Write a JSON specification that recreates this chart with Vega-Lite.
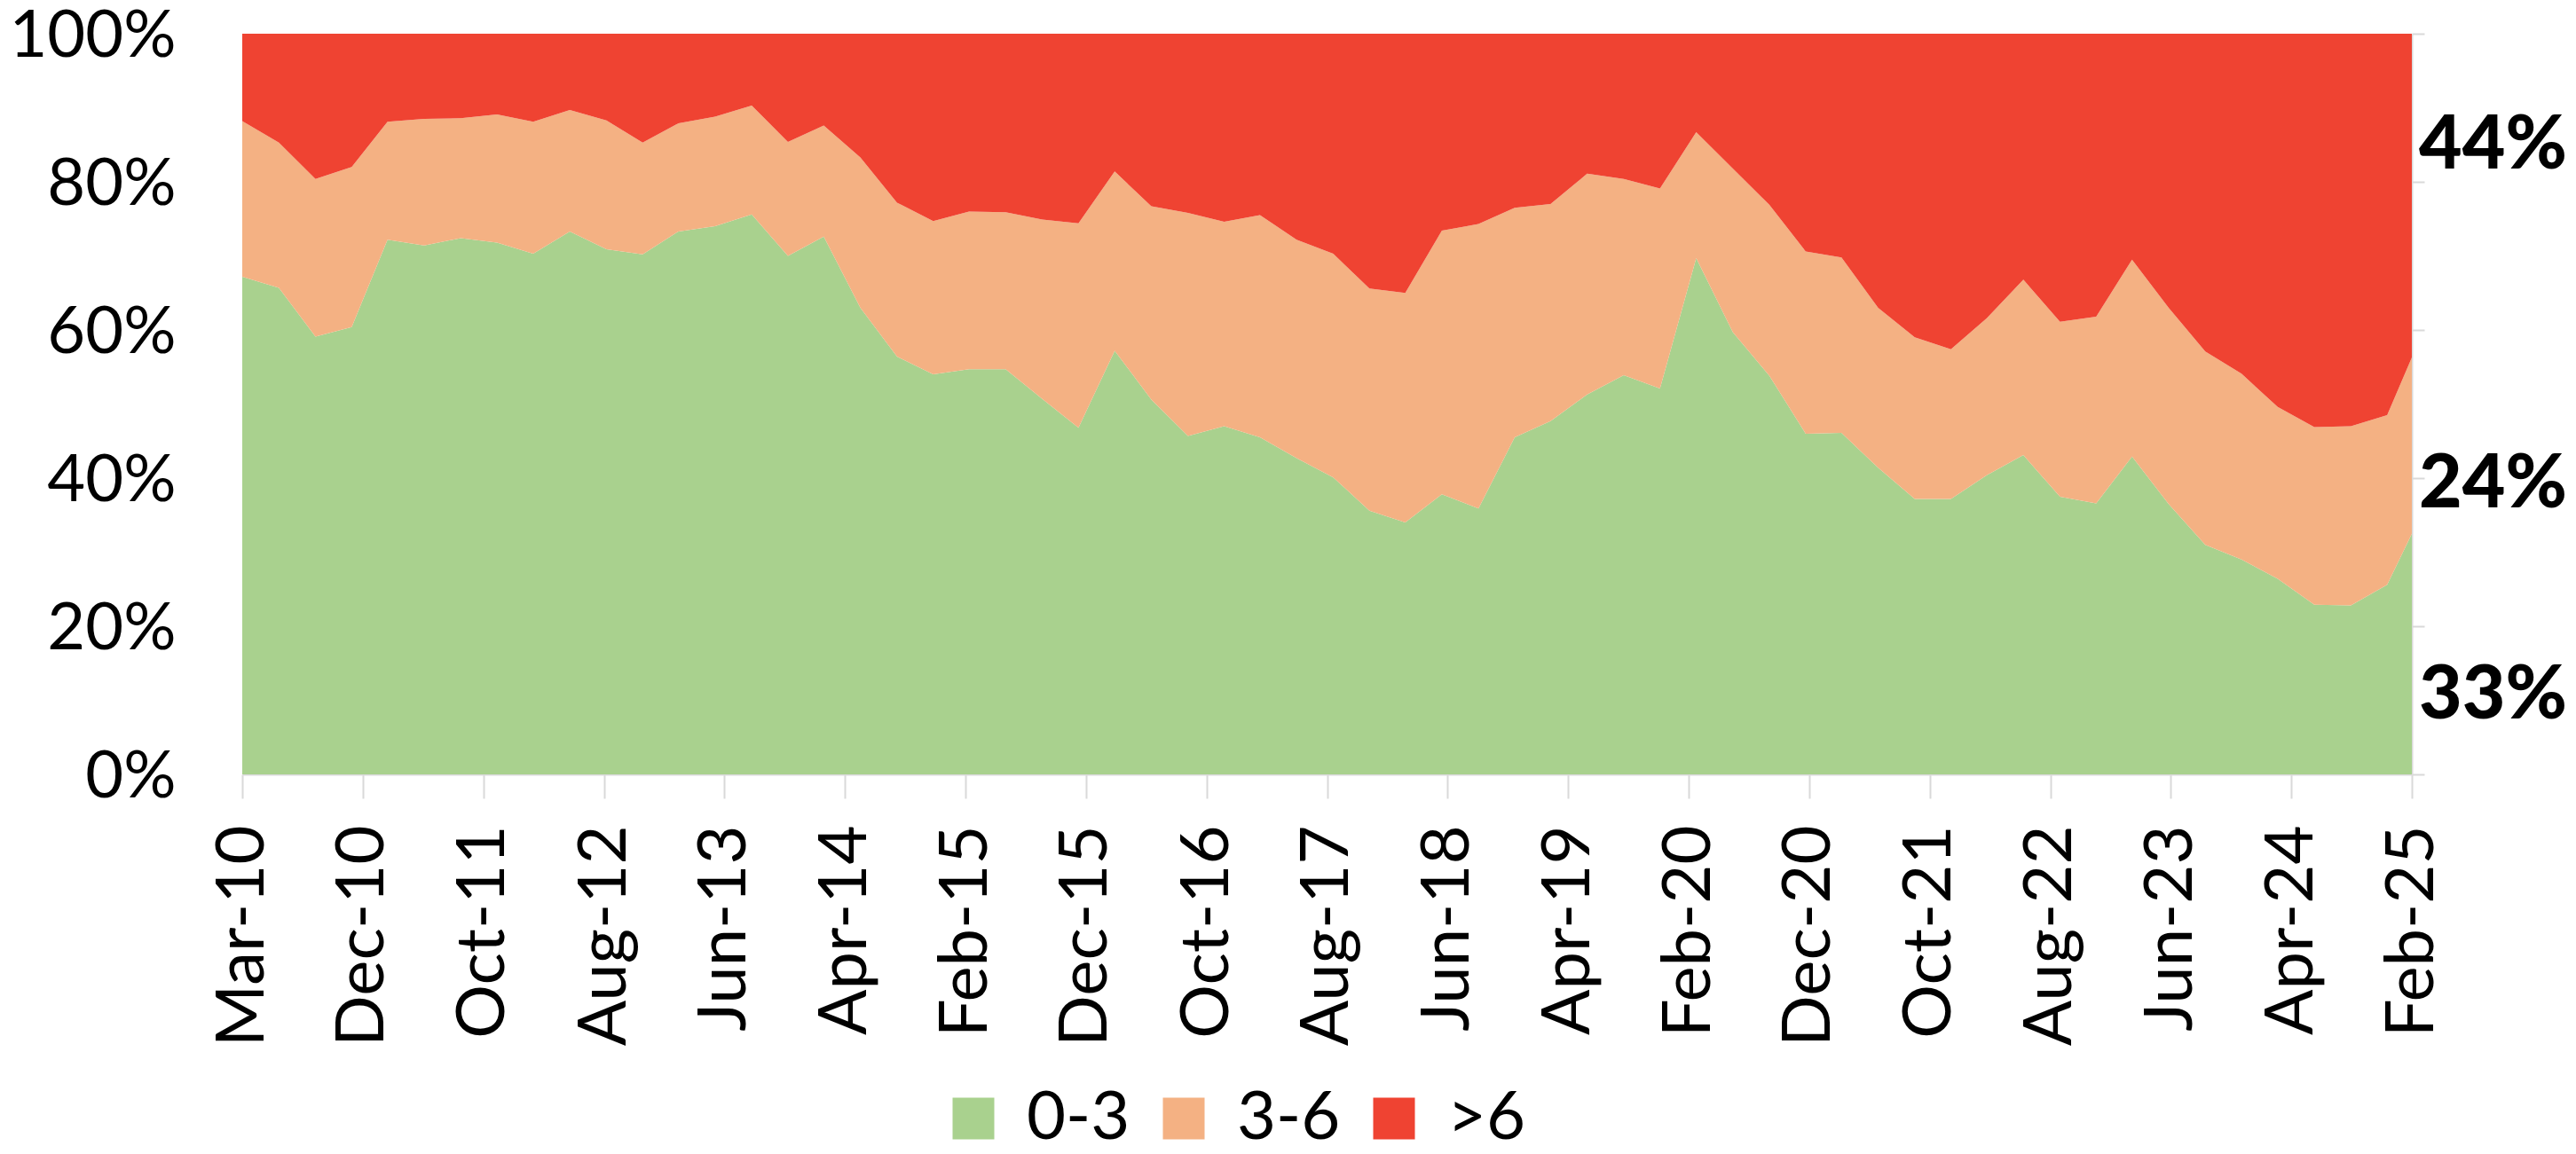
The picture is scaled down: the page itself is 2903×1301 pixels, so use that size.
{
  "$schema": "https://vega.github.io/schema/vega-lite/v6.json",
  "width": 2445,
  "height": 835,
  "autosize": {"type": "none"},
  "padding": {"left": 273, "top": 38, "right": 185, "bottom": 428},
  "background": "white",
  "config": {"view": {"stroke": null}, "font": "Lato"},
  "datasets": {
    "shares": [
      {"date": "2010-03-01T00:00", "0-3": 67.2, "3-6": 21.0, ">6": 11.8},
      {"date": "2010-06-01T00:00", "0-3": 65.7, "3-6": 19.6, ">6": 14.7},
      {"date": "2010-09-01T00:00", "0-3": 59.1, "3-6": 21.3, ">6": 19.6},
      {"date": "2010-12-01T00:00", "0-3": 60.4, "3-6": 21.6, ">6": 18.0},
      {"date": "2011-03-01T00:00", "0-3": 72.2, "3-6": 15.9, ">6": 11.9},
      {"date": "2011-06-01T00:00", "0-3": 71.4, "3-6": 17.1, ">6": 11.5},
      {"date": "2011-09-01T00:00", "0-3": 72.4, "3-6": 16.2, ">6": 11.4},
      {"date": "2011-12-01T00:00", "0-3": 71.8, "3-6": 17.3, ">6": 10.9},
      {"date": "2012-03-01T00:00", "0-3": 70.3, "3-6": 17.8, ">6": 11.9},
      {"date": "2012-06-01T00:00", "0-3": 73.3, "3-6": 16.4, ">6": 10.3},
      {"date": "2012-09-01T00:00", "0-3": 70.9, "3-6": 17.4, ">6": 11.7},
      {"date": "2012-12-01T00:00", "0-3": 70.2, "3-6": 15.1, ">6": 14.7},
      {"date": "2013-03-01T00:00", "0-3": 73.3, "3-6": 14.6, ">6": 12.1},
      {"date": "2013-06-01T00:00", "0-3": 74.0, "3-6": 14.8, ">6": 11.2},
      {"date": "2013-09-01T00:00", "0-3": 75.6, "3-6": 14.7, ">6": 9.7},
      {"date": "2013-12-01T00:00", "0-3": 70.0, "3-6": 15.4, ">6": 14.6},
      {"date": "2014-03-01T00:00", "0-3": 72.6, "3-6": 15.0, ">6": 12.4},
      {"date": "2014-06-01T00:00", "0-3": 63.0, "3-6": 20.3, ">6": 16.7},
      {"date": "2014-09-01T00:00", "0-3": 56.4, "3-6": 20.8, ">6": 22.8},
      {"date": "2014-12-01T00:00", "0-3": 54.0, "3-6": 20.7, ">6": 25.3},
      {"date": "2015-03-01T00:00", "0-3": 54.7, "3-6": 21.3, ">6": 24.0},
      {"date": "2015-06-01T00:00", "0-3": 54.7, "3-6": 21.2, ">6": 24.1},
      {"date": "2015-09-01T00:00", "0-3": 50.7, "3-6": 24.2, ">6": 25.1},
      {"date": "2015-12-01T00:00", "0-3": 46.8, "3-6": 27.6, ">6": 25.6},
      {"date": "2016-03-01T00:00", "0-3": 57.2, "3-6": 24.2, ">6": 18.6},
      {"date": "2016-06-01T00:00", "0-3": 50.6, "3-6": 26.1, ">6": 23.3},
      {"date": "2016-09-01T00:00", "0-3": 45.7, "3-6": 30.1, ">6": 24.2},
      {"date": "2016-12-01T00:00", "0-3": 47.0, "3-6": 27.6, ">6": 25.4},
      {"date": "2017-03-01T00:00", "0-3": 45.5, "3-6": 30.0, ">6": 24.5},
      {"date": "2017-06-01T00:00", "0-3": 42.7, "3-6": 29.5, ">6": 27.8},
      {"date": "2017-09-01T00:00", "0-3": 40.1, "3-6": 30.2, ">6": 29.7},
      {"date": "2017-12-01T00:00", "0-3": 35.6, "3-6": 30.0, ">6": 34.4},
      {"date": "2018-03-01T00:00", "0-3": 34.0, "3-6": 31.0, ">6": 35.0},
      {"date": "2018-06-01T00:00", "0-3": 37.8, "3-6": 35.6, ">6": 26.6},
      {"date": "2018-09-01T00:00", "0-3": 35.9, "3-6": 38.4, ">6": 25.7},
      {"date": "2018-12-01T00:00", "0-3": 45.5, "3-6": 31.0, ">6": 23.5},
      {"date": "2019-03-01T00:00", "0-3": 47.7, "3-6": 29.3, ">6": 23.0},
      {"date": "2019-06-01T00:00", "0-3": 51.3, "3-6": 29.8, ">6": 18.9},
      {"date": "2019-09-01T00:00", "0-3": 53.9, "3-6": 26.5, ">6": 19.6},
      {"date": "2019-12-01T00:00", "0-3": 52.1, "3-6": 27.0, ">6": 20.9},
      {"date": "2020-03-01T00:00", "0-3": 69.7, "3-6": 17.0, ">6": 13.3},
      {"date": "2020-06-01T00:00", "0-3": 59.7, "3-6": 22.1, ">6": 18.2},
      {"date": "2020-09-01T00:00", "0-3": 53.8, "3-6": 23.1, ">6": 23.1},
      {"date": "2020-12-01T00:00", "0-3": 46.0, "3-6": 24.6, ">6": 29.4},
      {"date": "2021-03-01T00:00", "0-3": 46.1, "3-6": 23.7, ">6": 30.2},
      {"date": "2021-06-01T00:00", "0-3": 41.4, "3-6": 21.6, ">6": 37.0},
      {"date": "2021-09-01T00:00", "0-3": 37.2, "3-6": 21.8, ">6": 41.0},
      {"date": "2021-12-01T00:00", "0-3": 37.2, "3-6": 20.2, ">6": 42.6},
      {"date": "2022-03-01T00:00", "0-3": 40.4, "3-6": 21.2, ">6": 38.4},
      {"date": "2022-06-01T00:00", "0-3": 43.1, "3-6": 23.7, ">6": 33.2},
      {"date": "2022-09-01T00:00", "0-3": 37.5, "3-6": 23.6, ">6": 38.9},
      {"date": "2022-12-01T00:00", "0-3": 36.6, "3-6": 25.2, ">6": 38.2},
      {"date": "2023-03-01T00:00", "0-3": 42.9, "3-6": 26.6, ">6": 30.5},
      {"date": "2023-06-01T00:00", "0-3": 36.5, "3-6": 26.5, ">6": 37.0},
      {"date": "2023-09-01T00:00", "0-3": 31.0, "3-6": 26.1, ">6": 42.9},
      {"date": "2023-12-01T00:00", "0-3": 29.0, "3-6": 25.1, ">6": 45.9},
      {"date": "2024-03-01T00:00", "0-3": 26.4, "3-6": 23.2, ">6": 50.4},
      {"date": "2024-06-01T00:00", "0-3": 22.9, "3-6": 24.0, ">6": 53.1},
      {"date": "2024-09-01T00:00", "0-3": 22.8, "3-6": 24.2, ">6": 53.0},
      {"date": "2024-12-01T00:00", "0-3": 25.6, "3-6": 22.9, ">6": 51.5},
      {"date": "2025-02-01T00:00", "0-3": 32.5, "3-6": 23.8, ">6": 43.7}
    ],
    "labels": [
      {"date": "2025-02-01T00:00", "label": "44%", "pos": 0.848},
      {"date": "2025-02-01T00:00", "label": "24%", "pos": 0.39},
      {"date": "2025-02-01T00:00", "label": "33%", "pos": 0.105}
    ]
  },
  "layer": [
    {
      "data": {"name": "shares"},
      "transform": [{"fold": ["0-3", "3-6", ">6"], "as": ["band", "pct"]}],
      "mark": {"type": "area", "interpolate": "linear"},
      "encoding": {
        "x": {
          "field": "date",
          "type": "temporal",
          "scale": {"nice": false, "padding": 0},
          "axis": {
            "title": null,
            "values": [
              {"year": 2010, "month": 3, "date": 1},
              {"year": 2010, "month": 12, "date": 29},
              {"year": 2011, "month": 10, "date": 28},
              {"year": 2012, "month": 8, "date": 27},
              {"year": 2013, "month": 6, "date": 24},
              {"year": 2014, "month": 4, "date": 23},
              {"year": 2015, "month": 2, "date": 20},
              {"year": 2015, "month": 12, "date": 20},
              {"year": 2016, "month": 10, "date": 19},
              {"year": 2017, "month": 8, "date": 17},
              {"year": 2018, "month": 6, "date": 15},
              {"year": 2019, "month": 4, "date": 14},
              {"year": 2020, "month": 2, "date": 11},
              {"year": 2020, "month": 12, "date": 10},
              {"year": 2021, "month": 10, "date": 9},
              {"year": 2022, "month": 8, "date": 8},
              {"year": 2023, "month": 6, "date": 6},
              {"year": 2024, "month": 4, "date": 4},
              {"year": 2025, "month": 2, "date": 1}
            ],
            "format": "%b-%y",
            "labelAngle": 270,
            "labelFont": "Lato",
            "labelFontSize": 76,
            "labelColor": "black",
            "labelPadding": 30,
            "labelLimit": 0,
            "labelOverlap": false,
            "labelFlush": false,
            "labelBound": false,
            "ticks": true,
            "tickSize": 27,
            "tickWidth": 2,
            "tickColor": "#D9D9D9",
            "domain": true,
            "domainWidth": 2,
            "domainColor": "#D9D9D9",
            "grid": false
          }
        },
        "y": {
          "field": "pct",
          "type": "quantitative",
          "stack": "normalize",
          "scale": {"domain": [0, 1], "nice": false},
          "axis": {
            "title": null,
            "values": [0, 0.2, 0.4, 0.6, 0.8, 1],
            "format": ".0%",
            "labelFont": "Lato",
            "labelFontSize": 74,
            "labelColor": "black",
            "labelLimit": 0,
            "labelOffset": 3,
            "labelBound": false,
            "ticks": false,
            "tickSize": 0,
            "labelPadding": 75,
            "domain": false,
            "grid": false
          }
        },
        "color": {
          "field": "band",
          "type": "nominal",
          "scale": {"domain": ["0-3", "3-6", ">6"], "range": ["#A9D18E", "#F4B183", "#EF4332"]},
          "legend": {
            "orient": "none",
            "legendX": 786,
            "legendY": 1185,
            "direction": "horizontal",
            "title": null,
            "symbolType": "square",
            "symbolSize": 2209,
            "symbolStrokeWidth": 0,
            "symbolOpacity": 1,
            "labelFont": "Lato",
            "labelFontSize": 76,
            "labelColor": "black",
            "labelOffset": 22,
            "labelLimit": 0,
            "columnPadding": 22
          }
        },
        "order": {"field": "band", "sort": "ascending"}
      }
    },
    {
      "data": {"name": "labels"},
      "mark": {"type": "text", "align": "left", "baseline": "middle", "dx": 8, "font": "Lato", "fontSize": 84, "fontWeight": 900, "color": "black"},
      "encoding": {
        "x": {"field": "date", "type": "temporal"},
        "y": {
          "field": "pos",
          "type": "quantitative",
          "axis": {
            "orient": "right",
            "title": null,
            "values": [0, 0.2, 0.4, 0.6, 0.8, 1],
            "labels": false,
            "ticks": true,
            "tickSize": 14,
            "tickWidth": 2,
            "tickColor": "#D9D9D9",
            "domain": true,
            "domainWidth": 2,
            "domainColor": "#D9D9D9",
            "grid": false
          }
        },
        "text": {"field": "label"}
      }
    }
  ],
  "resolve": {"axis": {"y": "independent"}}
}
